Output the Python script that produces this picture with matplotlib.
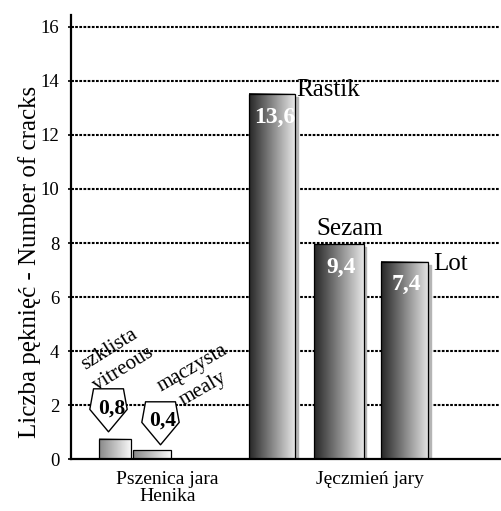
import numpy as np
import matplotlib
matplotlib.use("Agg")
import matplotlib.pyplot as plt
from matplotlib.colors import LinearSegmentedColormap
from matplotlib.path import Path

# data
bar_names = ["szklista", "mączysta", "Rastik", "Sezam", "Lot"]
bar_heights = [0.76, 0.33, 13.5, 7.95, 7.3]
value_labels = ["0,8", "0,4", "13,6", "9,4", "7,4"]
group_labels = ["Pszenica jara\nHenika", "Jęczmień jary"]
yticks = [0, 2, 4, 6, 8, 10, 12, 14, 16]

# layout
bar_pos = [1.03, 1.89, 4.69, 6.24, 7.77]
bar_width = [0.75, 0.89, 1.07, 1.16, 1.1]
group_pos = [2.24, 6.97]

plt.rcParams['font.family'] = ['Liberation Serif', 'DejaVu Serif']

fig = plt.figure(figsize=(5.01, 5.11), dpi=100)
ax = fig.add_axes([0.142, 0.101, 0.856, 0.870])

for y in yticks[1:]:
    ax.axhline(y, color='black', lw=1.5, ls=(0, (1.3, 0.7)), zorder=1)

bars = ax.bar(bar_pos, bar_heights, width=bar_width, facecolor='none',
              edgecolor='black', linewidth=0.9, zorder=3)

grad = np.linspace(0, 1, 256).reshape(1, -1)
for i, b in enumerate(bars):
    x0, y0 = b.get_xy()
    w, h = b.get_width(), b.get_height()
    if i < 2:
        cmap = LinearSegmentedColormap.from_list('g', ['#888888', '#fbfbfb'])
    else:
        cmap = LinearSegmentedColormap.from_list('g', ['#262626', '#e6e6e6'])
        # light shadow on the right of the tall bars
        ax.fill_between([x0 + w, x0 + w + 0.06], 0, h - 0.1, color='#b5b5b5', zorder=2)
    ax.imshow(grad, extent=(x0, x0 + w, y0, y0 + h), aspect='auto', cmap=cmap,
              zorder=2.5, interpolation='bilinear')

# white value labels inside the tall bars
for i in range(2, 5):
    t = ax.text(bar_pos[i] + 0.05, bar_heights[i] - 1.05, value_labels[i], color='white',
                fontsize=17, fontweight='bold', ha='center', va='baseline', zorder=4)
    t.set_clip_path(bars[i])

# variety names
ax.text(bar_pos[2] + bar_width[2] / 2 + 0.03, bar_heights[2] - 0.05, "Rastik",
        fontsize=18, ha='left', va='baseline', zorder=4)
ax.text(bar_pos[3] - bar_width[3] / 2 + 0.06, bar_heights[3] + 0.35, "Sezam",
        fontsize=18, ha='left', va='baseline', zorder=4)
ax.text(bar_pos[4] + bar_width[4] / 2 + 0.12, bar_heights[4] - 0.3, "Lot",
        fontsize=18, ha='left', va='baseline', zorder=4)

# pentagon labels for the wheat bars (wide top edge, point down)
pent = Path([(-0.8, 1.0), (0.8, 1.0), (1.0, -0.1), (0.0, -1.3), (-1.0, -0.1), (-0.8, 1.0)],
            closed=True)
pent_pos = [(0.87, 1.93), (2.07, 1.47)]
for (px, py), lab in zip(pent_pos, value_labels[:2]):
    ax.plot(px, py, marker=pent, ms=35, mfc='white', mec='black', mew=1.0, zorder=5)
    ax.text(px + 0.07, py - 0.05, lab, fontsize=15.5, fontweight='bold',
            ha='center', va='center', zorder=6)

# rotated type labels
ax.text(0.88, 4.05, "szklista", fontsize=15, rotation=32, ha='center', va='center')
ax.text(1.22, 3.32, "vitreous", fontsize=15, rotation=32, ha='center', va='center')
ax.text(2.82, 3.38, "mączysta", fontsize=15, rotation=30, ha='center', va='center')
ax.text(3.08, 2.62, "mealy", fontsize=15, rotation=30, ha='center', va='center')

ax.set_xlim(0, 10)
ax.set_ylim(0, 16.44)
ax.set_yticks(yticks)
ax.set_yticklabels([str(v) for v in yticks], fontsize=13.5)
ax.set_xticks(group_pos)
ax.set_xticklabels(group_labels, fontsize=14, linespacing=1.05)
ax.tick_params(axis='x', length=0, pad=8)
ax.tick_params(axis='y', direction='inout', length=5, width=1.2, pad=6)
ax.set_ylabel("Liczba pęknięć - Number of cracks", fontsize=18, va='center')
ax.yaxis.set_label_coords(-0.098, 0.444)

for s in ['top', 'right']:
    ax.spines[s].set_visible(False)
ax.spines['left'].set_linewidth(1.6)
ax.spines['bottom'].set_linewidth(1.6)

fig.savefig("out.png", dpi=100)
